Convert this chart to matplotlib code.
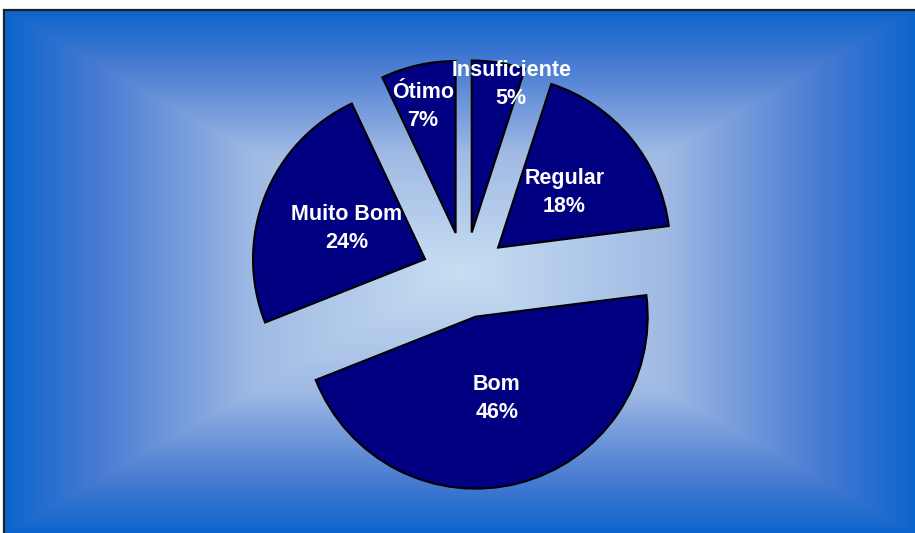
import numpy as np
import matplotlib
matplotlib.use("Agg")
import matplotlib.pyplot as plt
from matplotlib.colors import LinearSegmentedColormap
from matplotlib.patches import Rectangle

# data (clockwise from 12 o'clock)
categories = ["Insuficiente", "Regular", "Bom", "Muito Bom", "Ótimo"]
percent = [5, 18, 46, 24, 7]

# label placement (fraction of radius from slice apex, extra clockwise turn in degrees)
label_dist = [0.89, 0.50, 0.49, 0.49, 0.76]
label_turn = [6, 0, 0, 0, -2]

W, H = 915, 533
plt.rcParams['font.family'] = ['Liberation Sans', 'DejaVu Sans']

fig = plt.figure(figsize=(W / 100, H / 100), dpi=100)
ax = fig.add_axes([0, 0, 1, 1])

# background: rectangular gradient, light in the middle, dark blue at the edges
left, top = 4, 10
cx, cy = 460, 272
hw, hh = cx - left, cy - top
xs = np.arange(left, W) + 0.5
ys = np.arange(top, H) + 0.5
gx, gy = np.meshgrid(xs, ys)
t = np.maximum(np.abs(gx - cx) / hw, np.abs(gy - cy) / hh).clip(0, 1)
stops = [(0.0, (200, 222, 242)), (0.45, (160, 186, 228)), (0.6, (122, 158, 220)),
         (0.8, (70, 122, 210)), (1.0, (12, 100, 205))]
cmap = LinearSegmentedColormap.from_list(
    "bg", [(s, tuple(c / 255 for c in col)) for s, col in stops])
ax.imshow(cmap(t), extent=(left, W, 0, H - top), origin="upper",
          interpolation="bilinear", zorder=0, aspect="auto")
ax.add_patch(Rectangle((left, -5), W + 10, H - top + 5, fill=False,
                       edgecolor="#202020", linewidth=1.6, zorder=1))

# exploded pie (matplotlib's explode offset is in data units)
center = (465, H - 275)
radius = 172
wedges, _ = ax.pie(percent, center=center, radius=radius, startangle=90,
                   counterclock=False, explode=[0.25 * radius] * len(percent),
                   colors=["#000080"] * len(percent),
                   wedgeprops=dict(edgecolor="black", linewidth=1.5),
                   frame=True)
for w in wedges:
    w.set_zorder(2)

for w, name, p, d, turn in zip(wedges, categories, percent, label_dist, label_turn):
    ang = np.deg2rad((w.theta1 + w.theta2) / 2 - turn)
    x = w.center[0] + d * radius * np.cos(ang)
    y = w.center[1] + d * radius * np.sin(ang)
    ax.text(x, y, f"{name}\n{p}%", ha="center", va="center", ma="center",
            color="white", fontsize=15.5, fontweight="bold", linespacing=1.45,
            zorder=3)

ax.set_xlim(0, W)
ax.set_ylim(0, H)
ax.set_aspect("auto")
ax.axis("off")

fig.savefig("out.png", dpi=100, facecolor="white")
